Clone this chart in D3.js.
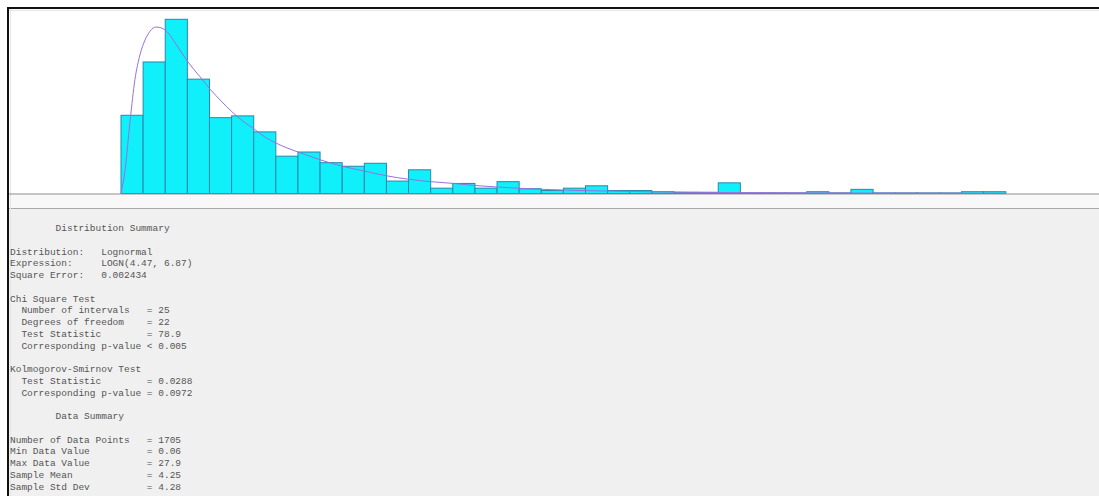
<!DOCTYPE html>
<html>
<head>
<meta charset="utf-8">
<script src="https://cdn.jsdelivr.net/npm/d3@7"></script>
<style>
html,body{margin:0;padding:0;background:#fff;}
svg{display:block;}
</style>
</head>
<body>
<svg id="chart" width="1099" height="496"></svg>
<script>
// ---- data ----
const binStart = 0;
const binWidth = 0.7;
const binCounts = [132, 222, 294, 193, 128, 131, 104, 63, 70, 52,
                   46, 51, 21, 40, 9, 17, 9, 20, 8, 5,
                   9, 13, 5, 5, 3, 2, 2, 18, 1, 1,
                   1, 3, 1, 7, 1, 1, 1, 1, 3, 3];
const curveX = [0, 0.13, 0.29, 0.44, 0.6, 0.76, 0.92, 1.11, 1.3, 1.49, 1.74, 2.12, 2.5, 2.82,
                3.17, 3.51, 3.86, 4.21, 4.56, 4.91, 5.25, 5.6, 6.3, 7.0, 7.69, 8.39, 9.11,
                9.81, 10.51, 11.2, 11.9, 12.6, 13.29, 13.99, 14.72, 15.41, 16.8, 18.2,
                19.59, 21.71, 23.8, 26.6, 28];
const curveY = [0, 40, 124, 192, 234, 259, 274, 281, 279, 271, 252, 222, 197, 176,
                156, 138, 122, 109, 95, 85, 77, 70, 57, 46, 38, 30, 24,
                20, 17, 13.5, 11, 8.8, 7.1, 5.9, 4.9, 4.1, 2.9, 2.0,
                1.5, 1.0, 0.7, 0.4, 0.2];
const summaryLines = [
  "        Distribution Summary",
  "",
  "Distribution:   Lognormal",
  "Expression:     LOGN(4.47, 6.87)",
  "Square Error:   0.002434",
  "",
  "Chi Square Test",
  "  Number of intervals   = 25",
  "  Degrees of freedom    = 22",
  "  Test Statistic        = 78.9",
  "  Corresponding p-value < 0.005",
  "",
  "Kolmogorov-Smirnov Test",
  "  Test Statistic        = 0.0288",
  "  Corresponding p-value = 0.0972",
  "",
  "        Data Summary",
  "",
  "Number of Data Points   = 1705",
  "Min Data Value          = 0.06",
  "Max Data Value          = 27.9",
  "Sample Mean             = 4.25",
  "Sample Std Dev          = 4.28"
];

// ---- drawing ----
const svg = d3.select("#chart");
const W = 1099, H = 496;
const baseY = 193.5;

svg.append("rect").attr("x",0).attr("y",0).attr("width",W).attr("height",H).attr("fill","#ffffff");
// lower strip and panel
svg.append("rect").attr("x",9).attr("y",195).attr("width",W-9).attr("height",13).attr("fill","#f8f8f8");
svg.append("rect").attr("x",9).attr("y",209).attr("width",W-9).attr("height",H-209).attr("fill","#f0f0f0");
svg.append("line").attr("x1",9).attr("x2",W).attr("y1",208.5).attr("y2",208.5).attr("stroke","#a8a8a8").attr("stroke-width",1);
// faint inner shadow
svg.append("line").attr("x1",9).attr("x2",W).attr("y1",10.5).attr("y2",10.5).attr("stroke","#e6e6e6").attr("stroke-width",1);
svg.append("line").attr("x1",10.5).attr("x2",10.5).attr("y1",9).attr("y2",H).attr("stroke","#e6e6e6").attr("stroke-width",1);

const x = d3.scaleLinear().domain([binStart, binStart + binWidth*binCounts.length]).range([121, 1005.8]);
const y = d3.scaleLinear().domain([0, 300]).range([baseY, baseY - 300*0.5925]);

// bars
svg.append("g").selectAll("rect").data(binCounts).join("rect")
  .attr("x", (d,i) => x(binStart + i*binWidth))
  .attr("width", (d,i) => x(binStart + (i+1)*binWidth) - x(binStart + i*binWidth))
  .attr("y", d => y(d))
  .attr("height", d => baseY - y(d))
  .attr("fill", "#10f0fb")
  .attr("stroke", "#2b86aa")
  .attr("stroke-width", 1);

// baseline
svg.append("line").attr("x1",9).attr("x2",W).attr("y1",194).attr("y2",194).attr("stroke","#8c8c8c").attr("stroke-width",1.2);

// fitted curve
const pts = curveX.map((v,i) => [v, curveY[i]]);
svg.append("path")
  .datum(pts)
  .attr("d", d3.line().x(d => x(d[0])).y(d => y(d[1])).curve(d3.curveMonotoneX))
  .attr("fill","none")
  .attr("stroke","#9a6fe0")
  .attr("stroke-width",1);

// borders
svg.append("rect").attr("x",7).attr("y",7).attr("width",W-7).attr("height",2).attr("fill","#111");
svg.append("rect").attr("x",7).attr("y",7).attr("width",2).attr("height",H-7).attr("fill","#111");

// summary text
svg.append("g").selectAll("text").data(summaryLines).join("text")
  .attr("x", 10)
  .attr("y", (d,i) => 231 + i*11.75)
  .attr("font-family", "'Liberation Mono', 'DejaVu Sans Mono', monospace")
  .attr("font-size", "9.5px")
  .attr("fill", "#555")
  .style("white-space","pre")
  .text(d => d);
</script>
</body>
</html>
